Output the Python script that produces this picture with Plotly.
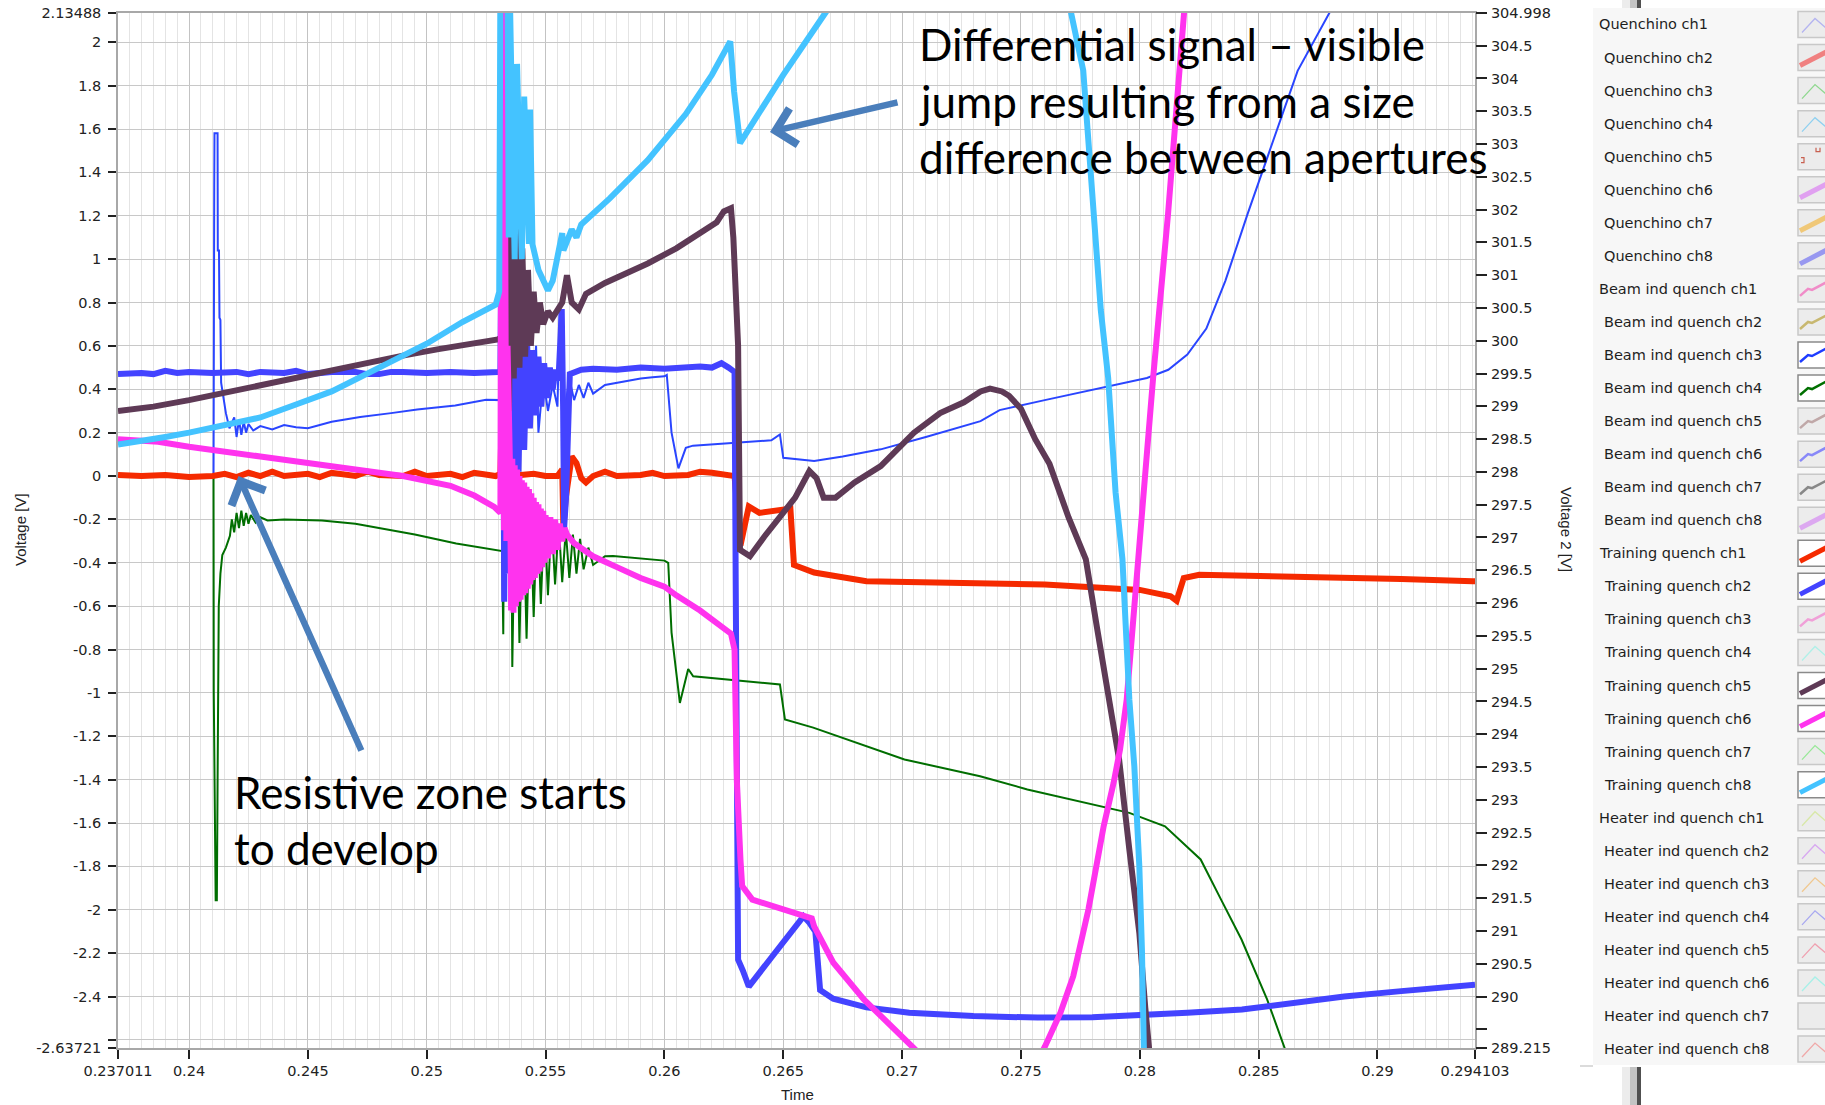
import plotly.graph_objects as go

# ---------------- axis limits and tick labels ----------------
T_MIN, T_MAX = 0.237011, 0.294103
V_MIN, V_MAX = -2.63721, 2.13488
V2_MIN, V2_MAX = 289.215, 304.998

x_tick_vals = [0.237011, 0.24, 0.245, 0.25, 0.255, 0.26, 0.265, 0.27, 0.275, 0.28, 0.285, 0.29, 0.294103]
x_tick_text = ["0.237011", "0.24", "0.245", "0.25", "0.255", "0.26", "0.265", "0.27", "0.275",
               "0.28", "0.285", "0.29", "0.294103"]
y_tick_vals = [-2.63721, -2.6, -2.4, -2.2, -2.0, -1.8, -1.6, -1.4, -1.2, -1.0, -0.8, -0.6, -0.4, -0.2,
               0.0, 0.2, 0.4, 0.6, 0.8, 1.0, 1.2, 1.4, 1.6, 1.8, 2.0, 2.13488]
y_tick_text = ["-2.63721", "", "-2.4", "-2.2", "-2", "-1.8", "-1.6", "-1.4", "-1.2", "-1", "-0.8", "-0.6",
               "-0.4", "-0.2", "0", "0.2", "0.4", "0.6", "0.8", "1", "1.2", "1.4", "1.6", "1.8", "2", "2.13488"]
y2_tick_vals = [289.215, 289.5, 290, 290.5, 291, 291.5, 292, 292.5, 293, 293.5, 294, 294.5, 295, 295.5,
                296, 296.5, 297, 297.5, 298, 298.5, 299, 299.5, 300, 300.5, 301, 301.5, 302, 302.5,
                303, 303.5, 304, 304.5, 304.998]
y2_tick_text = ["289.215", "", "290", "290.5", "291", "291.5", "292", "292.5", "293", "293.5", "294",
                "294.5", "295", "295.5", "296", "296.5", "297", "297.5", "298", "298.5", "299", "299.5",
                "300", "300.5", "301", "301.5", "302", "302.5", "303", "303.5", "304", "304.5", "304.998"]

# ---------------- channel data: time [s], voltage [V] ----------------
# Beam ind quench ch3
t_bq3 = [0.237011, 0.238, 0.239, 0.240, 0.24103, 0.241035, 0.24106, 0.24107, 0.2412, 0.24121, 0.24126,
         0.24128, 0.24132, 0.24135, 0.2414, 0.24155, 0.2417, 0.2419, 0.2420, 0.2421, 0.2422, 0.2423,
         0.2424, 0.2425, 0.2427, 0.2430, 0.2435, 0.2440, 0.2445, 0.2450, 0.2460, 0.2472, 0.2485, 0.2496,
         0.2512, 0.2525, 0.2531,
         0.25315, 0.2532, 0.2533, 0.2534, 0.2535, 0.2536, 0.2537, 0.2538, 0.2540, 0.2541, 0.2543, 0.2544,
         0.2546, 0.2547, 0.2549, 0.2551, 0.2553, 0.2555, 0.2556, 0.2557, 0.2558, 0.2560, 0.2562, 0.2564,
         0.2566, 0.2568, 0.2570, 0.2575, 0.2580, 0.2585, 0.2590, 0.2595, 0.2600, 0.2601, 0.2603, 0.26059,
         0.2609, 0.2612, 0.2625, 0.2636, 0.2645, 0.26486, 0.2650, 0.2663, 0.2675, 0.2691, 0.2710, 0.2733,
         0.2741, 0.2760, 0.2783, 0.2803, 0.2812, 0.2820, 0.2828, 0.2836, 0.28454, 0.28559, 0.28664,
         0.2880, 0.2883]
v_bq3 = [0.0, 0.005, 0.0, 0.005, 0.0, 1.33, 1.33, 1.58, 1.58, 1.04, 1.04,
         0.73, 0.72, 0.43, 0.39, 0.29, 0.22, 0.27, 0.18, 0.26, 0.19, 0.25,
         0.20, 0.24, 0.21, 0.23, 0.215, 0.235, 0.225, 0.22, 0.25, 0.272, 0.29, 0.307,
         0.325, 0.352, 0.35,
         0.60, 0.10, 0.55, 0.15, 0.50, 0.20, 0.48, 0.25, 0.55, 0.20, 0.50, 0.25,
         0.60, 0.20, 0.45, 0.30, 0.42, 0.32, 0.77, 0.50, 0.30, 0.45, 0.35, 0.42,
         0.36, 0.43, 0.38, 0.42, 0.43, 0.44, 0.45, 0.455, 0.46, 0.466, 0.20, 0.035,
         0.13, 0.14, 0.149, 0.157, 0.165, 0.192, 0.084, 0.069, 0.09, 0.123, 0.18, 0.253,
         0.304, 0.35, 0.404, 0.452, 0.49, 0.56, 0.68, 0.90, 1.21, 1.539, 1.868,
         2.14, 2.3]

# Beam ind quench ch4
t_bq4 = [0.237011, 0.238, 0.239, 0.240, 0.24103, 0.24104, 0.24112, 0.24117, 0.2412, 0.24125, 0.24132,
         0.2414, 0.24155, 0.24172, 0.2418, 0.2419, 0.2420, 0.2421, 0.2422, 0.2423, 0.2424, 0.2425, 0.2426,
         0.2428, 0.2430, 0.2433, 0.2440, 0.24559, 0.2470, 0.24801, 0.2495, 0.25124, 0.2525, 0.25317,
         0.25322, 0.25328, 0.25336, 0.25342, 0.2535, 0.2536, 0.25375, 0.2539, 0.25405, 0.2542, 0.25435,
         0.2545, 0.25465, 0.2548, 0.25495, 0.2551, 0.25525, 0.2554, 0.25555, 0.2557, 0.25585, 0.2560,
         0.25615, 0.2563, 0.25645, 0.2566, 0.2568, 0.2570, 0.2575, 0.25784, 0.2590, 0.2600, 0.26016,
         0.2603, 0.26065, 0.2610, 0.26121, 0.2630, 0.26486, 0.26507, 0.26626, 0.2701, 0.27328, 0.27527,
         0.27956, 0.28106, 0.28256, 0.28342, 0.28428, 0.28536, 0.28611, 0.2863]
v_bq4 = [0.0, -0.005, 0.0, -0.005, 0.0, -1.0, -1.956, -1.956, -1.42, -0.6, -0.45,
         -0.364, -0.33, -0.276, -0.20, -0.26, -0.17, -0.24, -0.16, -0.23, -0.17, -0.22, -0.18,
         -0.215, -0.19, -0.205, -0.20, -0.205, -0.22, -0.24, -0.27, -0.311, -0.335, -0.346,
         -0.73, 0.60, 1.81, -0.40, 0.90, -0.88, 0.20, -0.77, -0.05, -0.75, -0.10,
         -0.65, -0.14, -0.59, -0.17, -0.55, -0.20, -0.50, -0.22, -0.49, -0.25, -0.47,
         -0.27, -0.45, -0.29, -0.43, -0.33, -0.41, -0.37, -0.369, -0.38, -0.39, -0.40,
         -0.722, -1.046, -0.89, -0.923, -0.94, -0.961, -1.122, -1.16, -1.307, -1.384, -1.445,
         -1.553, -1.615, -1.768, -1.953, -2.137, -2.414, -2.637, -2.7]

# Training quench ch1
t_tq1 = [0.237011, 0.238, 0.239, 0.240, 0.241, 0.2415, 0.2420, 0.2425, 0.2430, 0.2435, 0.2440, 0.2450,
         0.2455, 0.2460, 0.2470, 0.2475, 0.2480, 0.2490, 0.2495, 0.2500, 0.2510, 0.2515, 0.2520, 0.2529,
         0.2531, 0.25314, 0.2532, 0.2535, 0.2545, 0.2550, 0.2555, 0.2557, 0.25575, 0.25585, 0.2561,
         0.2563, 0.2565, 0.2567, 0.2570, 0.2575, 0.2580, 0.2590, 0.2595, 0.2600, 0.2610, 0.2615, 0.2620,
         0.2627, 0.26295, 0.2632, 0.26355, 0.2640, 0.2650, 0.2653, 0.26545, 0.2663, 0.2685, 0.2730,
         0.2760, 0.2800, 0.2813, 0.28155, 0.28185, 0.2825, 0.2850, 0.2880, 0.2910, 0.2940, 0.294103]
v_tq1 = [0.005, 0.0, 0.005, -0.005, 0.0, 0.01, -0.005, 0.015, 0.0, 0.02, 0.0, 0.01,
         -0.005, 0.015, 0.0, 0.02, 0.005, 0.0, 0.02, 0.0, 0.01, -0.005, 0.015, 0.0,
         0.01, 0.20, 0.05, 0.0, 0.01, 0.0, 0.0, 0.03, -0.24, -0.10, 0.09,
         0.06, -0.01, -0.03, 0.0, 0.02, 0.0, 0.005, 0.015, 0.0, 0.005, 0.02, 0.015,
         0.005, 0.0, -0.32, -0.14, -0.17, -0.15, -0.15, -0.41, -0.445, -0.485, -0.49,
         -0.50, -0.525, -0.555, -0.575, -0.47, -0.455, -0.46, -0.47, -0.475, -0.485, -0.485]

# Training quench ch2
t_tq2 = [0.237011, 0.238, 0.2385, 0.239, 0.2395, 0.240, 0.241, 0.242, 0.2425, 0.243, 0.244, 0.2445,
         0.245, 0.246, 0.247, 0.2475, 0.248, 0.2485, 0.249, 0.250, 0.251, 0.252, 0.253,
         0.25310, 0.25318, 0.25326, 0.25334, 0.25342, 0.25352, 0.25362, 0.25374, 0.25386, 0.25398,
         0.25410, 0.25422, 0.25434, 0.25446, 0.25458, 0.25470, 0.25482, 0.25494, 0.25506, 0.25518,
         0.25530, 0.25542, 0.25554, 0.25562, 0.25568, 0.25574, 0.25578, 0.25586, 0.25594, 0.25602,
         0.2565, 0.2570, 0.2580, 0.2590, 0.2600, 0.2610, 0.2615, 0.2620, 0.2624, 0.2627, 0.26295,
         0.2630, 0.26305, 0.2631, 0.2633, 0.26355, 0.2645, 0.2655, 0.26585, 0.2661, 0.26635, 0.26655,
         0.2671, 0.2685, 0.2703, 0.2730, 0.2757, 0.2780, 0.2800, 0.2820, 0.2843, 0.2865, 0.2886, 0.2910,
         0.294103]
v_tq2 = [0.47, 0.475, 0.47, 0.485, 0.475, 0.48, 0.475, 0.48, 0.47, 0.48, 0.475, 0.485,
         0.47, 0.48, 0.48, 0.47, 0.47, 0.48, 0.48, 0.475, 0.48, 0.475, 0.48,
         0.48, 1.65, -0.58, 1.20, -0.45, 0.95, -0.25, 0.78, 0.02, 0.68,
         0.12, 0.62, 0.22, 0.58, 0.28, 0.55, 0.32, 0.52, 0.36, 0.50,
         0.40, 0.49, 0.44, 0.62, 0.77, 0.30, -0.24, -0.10, 0.35, 0.47,
         0.49, 0.495, 0.49, 0.50, 0.495, 0.50, 0.505, 0.50, 0.52, 0.50, 0.48,
         -0.5, -2.0, -2.23, -2.28, -2.354, -2.22, -2.08, -2.03, -2.06, -2.10, -2.37,
         -2.41, -2.45, -2.475, -2.49, -2.497, -2.495, -2.488, -2.475, -2.46, -2.43, -2.40, -2.375,
         -2.345]

# Training quench ch5
t_tq5 = [0.237011, 0.2385, 0.2400, 0.2415, 0.2430, 0.2445, 0.2460, 0.2475, 0.2490, 0.2505, 0.2520,
         0.2530, 0.25315, 0.25322, 0.25330, 0.25338, 0.25346, 0.25356, 0.25366, 0.25378, 0.25390,
         0.25402, 0.25414, 0.25426, 0.25438, 0.25450, 0.25462, 0.25476, 0.25490, 0.25510, 0.25530,
         0.25550, 0.25570, 0.25590, 0.25610, 0.25640, 0.25670, 0.2575, 0.2585, 0.2593, 0.2605, 0.2615,
         0.2622, 0.2625, 0.2628, 0.2629, 0.2631, 0.26318, 0.2636, 0.2642, 0.26486, 0.2655, 0.2661,
         0.2664, 0.2667, 0.2672, 0.2680, 0.2691, 0.2705, 0.2716, 0.2726, 0.2733, 0.2737, 0.2742, 0.2745,
         0.2750, 0.2756, 0.2762, 0.2770, 0.2775, 0.27773, 0.2782, 0.2787, 0.27913, 0.27956, 0.27998,
         0.28023, 0.2804]
v_tq5 = [0.30, 0.32, 0.35, 0.385, 0.42, 0.45, 0.49, 0.525, 0.555, 0.585, 0.61,
         0.63, 0.64, 2.0, 0.17, 1.9, 0.30, 1.5, 0.45, 1.21, 0.50,
         1.05, 0.55, 0.95, 0.60, 0.85, 0.66, 0.80, 0.70, 0.76, 0.73,
         0.77, 0.80, 0.926, 0.80, 0.768, 0.84, 0.89, 0.94, 0.98, 1.05, 1.12,
         1.17, 1.22, 1.235, 1.10, 0.60, -0.34, -0.37, -0.28, -0.185, -0.10, 0.023,
         -0.01, -0.10, -0.10, -0.03, 0.046, 0.20, 0.29, 0.34, 0.39, 0.403, 0.39, 0.37,
         0.31, 0.17, 0.057, -0.19, -0.33, -0.384, -0.70, -1.03, -1.307, -1.722, -2.106,
         -2.45, -2.65]

# Training quench ch6
t_tq6 = [0.237011, 0.2387, 0.2400, 0.2417, 0.2430, 0.2450, 0.2470, 0.2490, 0.2510, 0.2520, 0.25284,
         0.2530, 0.2531, 0.25315, 0.2532, 0.25325, 0.2533, 0.25335, 0.2534,
         0.25350, 0.25355, 0.25360, 0.25365, 0.25370, 0.25375, 0.25380, 0.25385, 0.25390, 0.25395,
         0.25400, 0.25405, 0.25410, 0.25415, 0.25420, 0.25425, 0.25430, 0.25435, 0.25440, 0.25445,
         0.25450, 0.25455, 0.25460, 0.25465, 0.25470, 0.25475, 0.25480, 0.25485, 0.25490, 0.25495,
         0.25500, 0.25510, 0.25520, 0.25530, 0.25540, 0.25550, 0.25560, 0.25570, 0.25580, 0.25590,
         0.2562, 0.2570, 0.2580, 0.2590, 0.2600, 0.2605, 0.2615, 0.2626, 0.2628, 0.26295, 0.2630,
         0.26305, 0.2632, 0.26327, 0.2637, 0.2654, 0.2662, 0.2663, 0.2671, 0.2684, 0.2705, 0.2707,
         0.2733, 0.27601, 0.27666, 0.2772, 0.27784, 0.27848, 0.2789, 0.27917, 0.27945, 0.27993,
         0.28056, 0.28119, 0.2819, 0.2822]
v_tq6 = [0.17, 0.158, 0.135, 0.113, 0.09, 0.06, 0.03, 0.0, -0.045, -0.09, -0.142,
         -0.16, -0.17, 2.3, 2.3, -0.25, 1.2, -0.30, 0.6,
         0.06, -0.62, 0.08, -0.63, 0.05, -0.60, 0.03, -0.58, 0.0, -0.57,
         -0.02, -0.55, -0.03, -0.54, -0.05, -0.52, -0.06, -0.50, -0.08, -0.48,
         -0.10, -0.47, -0.12, -0.45, -0.13, -0.44, -0.15, -0.42, -0.16, -0.40,
         -0.18, -0.38, -0.19, -0.36, -0.20, -0.34, -0.22, -0.30, -0.24, -0.27,
         -0.31, -0.37, -0.42, -0.47, -0.51, -0.55, -0.62, -0.707, -0.727, -0.80, -1.20,
         -1.41, -1.77, -1.89, -1.953, -2.013, -2.04, -2.076, -2.243, -2.414, -2.63, -2.66,
         -3.2, -2.63, -2.475, -2.306, -1.998, -1.615, -1.414, -1.26, -1.03, -0.38,
         0.452, 1.21, 2.15, 2.6]

# Training quench ch8
t_tq8 = [0.237011, 0.2380, 0.2390, 0.2400, 0.2410, 0.2420, 0.2430, 0.2445, 0.2460, 0.2480, 0.2500,
         0.2515, 0.2529, 0.25305, 0.2531, 0.2534, 0.25345, 0.2535, 0.2537, 0.2538, 0.2540, 0.2541,
         0.2543, 0.25435, 0.25445, 0.2547, 0.2551, 0.2553, 0.2555, 0.2557, 0.25575, 0.2561, 0.2563,
         0.2565, 0.2577, 0.2593, 0.2609, 0.2620, 0.26277, 0.26293, 0.26318, 0.26363, 0.2650, 0.2668,
         0.2672, 0.2720, 0.2771, 0.27762, 0.27804, 0.27836, 0.27867, 0.27898, 0.27927, 0.27956,
         0.27977, 0.27998, 0.28009, 0.28016, 0.2802]
v_tq8 = [0.145, 0.16, 0.18, 0.20, 0.225, 0.25, 0.27, 0.33, 0.39, 0.50, 0.61,
         0.71, 0.79, 0.85, 2.3, 2.3, 1.10, 2.2, 1.0, 1.9, 1.0, 1.75,
         1.07, 1.69, 1.068, 0.95, 0.856, 0.90, 1.0, 1.12, 1.04, 1.137, 1.10,
         1.16, 1.28, 1.456, 1.669, 1.85, 2.004, 1.774, 1.535, 1.615, 1.85, 2.14,
         2.3, 3.0, 2.14, 1.87, 1.276, 0.765, 0.452, -0.075, -0.384, -1.03,
         -1.338, -1.80, -2.183, -2.63, -2.8]

# ---------------- legend entries (label, sample colour, sample style, shown) ----------------
legend_names = ["Quenchino ch1", "Quenchino ch2", "Quenchino ch3", "Quenchino ch4", "Quenchino ch5",
                "Quenchino ch6", "Quenchino ch7", "Quenchino ch8",
                "Beam ind quench ch1", "Beam ind quench ch2", "Beam ind quench ch3", "Beam ind quench ch4",
                "Beam ind quench ch5", "Beam ind quench ch6", "Beam ind quench ch7", "Beam ind quench ch8",
                "Training quench ch1", "Training quench ch2", "Training quench ch3", "Training quench ch4",
                "Training quench ch5", "Training quench ch6", "Training quench ch7", "Training quench ch8",
                "Heater ind quench ch1", "Heater ind quench ch2", "Heater ind quench ch3",
                "Heater ind quench ch4", "Heater ind quench ch5", "Heater ind quench ch6",
                "Heater ind quench ch7", "Heater ind quench ch8"]
legend_colors = ["#b4b4f0", "#f08080", "#8fd88f", "#8fd0f0", "#c86050", "#e0a0f0", "#f0c878", "#9898f0",
                 "#f08cc8", "#c8b870", "#1e3cff", "#007000", "#c0a8a8", "#8888f8", "#888888", "#dca8f0",
                 "#f52a00", "#4343ff", "#f0a0d8", "#b0f0e8", "#5e3a56", "#ff33ee", "#98e898", "#44c3ff",
                 "#d8e8a8", "#d8a8f0", "#f0c890", "#a8a8f0", "#f0a0b0", "#a8f0e8", "", "#f0a8a8"]
legend_style = ["thin", "thick", "thin", "thin", "dots", "thick", "thick", "thick",
                "mid", "mid", "mid", "mid", "mid", "mid", "mid", "thick",
                "thick", "thick", "mid", "thin", "thick", "thick", "thin", "thick",
                "thin", "thin", "thin", "thin", "thin", "thin", "none", "thin"]
legend_shown = [False] * 10 + [True, True] + [False] * 4 + [True, True, False, False, True, True, False, True] \
    + [False] * 8

# ---------------- figure ----------------
W, H = 1825, 1105
L, R, T, B = 118, 1475, 13, 1048   # plot area in pixels


def px(x):
    return (x - L) / (R - L)


def py(y):
    return (B - y) / (B - T)


fig = go.Figure()

series = [
    ("Beam ind quench ch3", t_bq3, v_bq3, "#2a45ff", 2),
    ("Beam ind quench ch4", t_bq4, v_bq4, "#006e00", 2),
    ("Training quench ch1", t_tq1, v_tq1, "#f52a00", 6),
    ("Training quench ch2", t_tq2, v_tq2, "#4343ff", 6),
    ("Training quench ch5", t_tq5, v_tq5, "#5e3a56", 6),
    ("Training quench ch6", t_tq6, v_tq6, "#ff33ee", 6),
    ("Training quench ch8", t_tq8, v_tq8, "#44c3ff", 6),
]
for name, tt, vv, col, w in series:
    fig.add_trace(go.Scatter(x=tt, y=vv, mode="lines", name=name,
                             line=dict(color=col, width=w), showlegend=False))

# second voltage scale
fig.add_trace(go.Scatter(x=[], y=[], yaxis="y2", mode="lines", showlegend=False, hoverinfo="skip"))

tick_font = dict(family="DejaVu Sans", size=14.5, color="#222222")

fig.update_layout(
    width=W, height=H,
    margin=dict(l=L, r=W - R, t=T, b=H - B, pad=0, autoexpand=False),
    paper_bgcolor="white", plot_bgcolor="white",
    showlegend=False,
    xaxis=dict(range=[T_MIN, T_MAX], tickmode="array", tickvals=x_tick_vals, ticktext=x_tick_text,
               ticks="outside", ticklen=9, tickwidth=1.5, tickcolor="#222222", ticklabelstandoff=0,
               showgrid=True, gridcolor="#c3c3c3", gridwidth=1.2,
               minor=dict(tickmode="linear", tick0=0.24, dtick=0.0005, showgrid=True,
                          gridcolor="#e4e4e4", gridwidth=1, ticks=""),
               showline=True, linecolor="#a8a8a8", linewidth=1.5, mirror=True, zeroline=False,
               tickfont=tick_font, automargin=False),
    yaxis=dict(range=[V_MIN, V_MAX], tickmode="array", tickvals=y_tick_vals, ticktext=y_tick_text,
               ticks="outside", ticklen=8, tickwidth=1.5, tickcolor="#222222", ticklabelstandoff=4,
               showgrid=True, gridcolor="#c8c8c8", gridwidth=1.2,
               showline=True, linecolor="#a8a8a8", linewidth=1.5, mirror=True, zeroline=False,
               tickfont=tick_font, automargin=False),
    yaxis2=dict(range=[V2_MIN, V2_MAX], overlaying="y", side="right", tickmode="array",
                tickvals=y2_tick_vals, ticktext=y2_tick_text, ticks="outside", ticklen=11,
                tickwidth=1.5, tickcolor="#222222", ticklabelstandoff=1,
                showgrid=False, zeroline=False, showline=False, tickfont=tick_font, automargin=False),
)

shapes = []
annotations = []

# legend panel
shapes.append(dict(type="rect", xref="paper", yref="paper", layer="below",
                   x0=px(1593), x1=px(1840), y0=py(1065), y1=py(8),
                   fillcolor="#f7f7f7", line=dict(width=0)))
shapes.append(dict(type="line", xref="paper", yref="paper", x0=px(1580), x1=px(1593),
                   y0=py(1066), y1=py(1066), line=dict(color="#cfcfcf", width=1.5)))
# window splitter
for y0, y1 in [(0, 8), (1067, 1105)]:
    shapes.append(dict(type="rect", xref="paper", yref="paper", x0=px(1622), x1=px(1630),
                       y0=py(y1), y1=py(y0), fillcolor="#ececec", line=dict(width=0)))
    shapes.append(dict(type="rect", xref="paper", yref="paper", x0=px(1630), x1=px(1637),
                       y0=py(y1), y1=py(y0), fillcolor="#c4c4c4", line=dict(width=0)))
    shapes.append(dict(type="rect", xref="paper", yref="paper", x0=px(1637), x1=px(1641),
                       y0=py(y1), y1=py(y0), fillcolor="#505050", line=dict(width=0)))

LEG_Y0, LEG_DY = 24.5, 33.05
for i, name in enumerate(legend_names):
    cy = LEG_Y0 + i * LEG_DY
    x_text = 1597 if name.endswith("ch1") else 1602
    annotations.append(dict(text=name, x=px(x_text), y=py(cy), xref="paper", yref="paper",
                            xanchor="left", yanchor="middle", showarrow=False,
                            font=dict(family="DejaVu Sans", size=14.5, color="#1e1e1e")))
    shown = legend_shown[i]
    shapes.append(dict(type="rect", xref="paper", yref="paper", x0=px(1798), x1=px(1845),
                       y0=py(cy + 13), y1=py(cy - 13),
                       fillcolor="white" if shown else "#ececec",
                       line=dict(color="#8a8a8a" if shown else "#c8c8c8", width=1.5)))
    col, style = legend_colors[i], legend_style[i]
    if style == "thin":
        path = "M{},{} L{},{} L{},{}".format(px(1802), py(cy + 8), px(1815), py(cy - 6), px(1829), py(cy + 6))
        shapes.append(dict(type="path", xref="paper", yref="paper", path=path, line=dict(color=col, width=1.3)))
    elif style == "mid":
        path = "M{},{} L{},{} L{},{} L{},{}".format(px(1800), py(cy + 7), px(1808), py(cy), px(1812), py(cy + 1),
                                                  px(1829), py(cy - 8))
        shapes.append(dict(type="path", xref="paper", yref="paper", path=path, line=dict(color=col, width=2.5)))
    elif style == "thick":
        path = "M{},{} L{},{}".format(px(1800), py(cy + 8), px(1829), py(cy - 7))
        shapes.append(dict(type="path", xref="paper", yref="paper", path=path, line=dict(color=col, width=5)))
    elif style == "dots":
        path = "M{},{} H{} V{} H{} M{},{} V{} H{} V{}".format(
            px(1801), py(cy + 1), px(1804), py(cy + 6), px(1801),
            px(1816), py(cy - 9), py(cy - 5), px(1820), py(cy - 9))
        shapes.append(dict(type="path", xref="paper", yref="paper", path=path, line=dict(color=col, width=1.2)))

# axis titles
title_font = dict(family="Liberation Sans", size=15, color="#222222")
annotations.append(dict(text="Voltage [V]", x=px(20), y=py(530), xref="paper", yref="paper",
                        xanchor="center", yanchor="middle",
                        textangle=-90, showarrow=False, font=title_font))
annotations.append(dict(text="Voltage 2 [V]", x=px(1567), y=py(529), xref="paper", yref="paper",
                        xanchor="center", yanchor="middle",
                        textangle=90, showarrow=False, font=title_font))
annotations.append(dict(text="Time", x=px(797), y=py(1094), xref="paper", yref="paper",
                        xanchor="center", yanchor="middle", showarrow=False, font=title_font))

# call-outs
note_font = dict(family="Lato", size=44, color="black")
for k, line in enumerate(["Differential signal – visible", "jump resulting from a size",
                          "difference between apertures"]):
    annotations.append(dict(text=line, x=px(917), y=py(44 + 56.5 * k), xref="paper", yref="paper",
                            xanchor="left", yanchor="middle", showarrow=False, font=note_font))
for k, line in enumerate(["Resistive zone starts", "to develop"]):
    annotations.append(dict(text=line, x=px(232), y=py(792 + 56 * k), xref="paper", yref="paper",
                            xanchor="left", yanchor="middle", showarrow=False, font=note_font))

arrow_col = "#4a7ebb"
for (hx, hy), (tx, ty) in [((770, 132), (899, 102)), ((238.5, 476), (362, 752))]:
    annotations.append(dict(text="", x=px(hx), y=py(hy), xref="paper", yref="paper",
                            ax=tx - hx, ay=ty - hy, showarrow=True, arrowhead=4, arrowsize=1.1,
                            arrowwidth=6.5, arrowcolor=arrow_col, standoff=0))

fig.update_layout(shapes=shapes, annotations=annotations)

fig.write_html("out.html")
